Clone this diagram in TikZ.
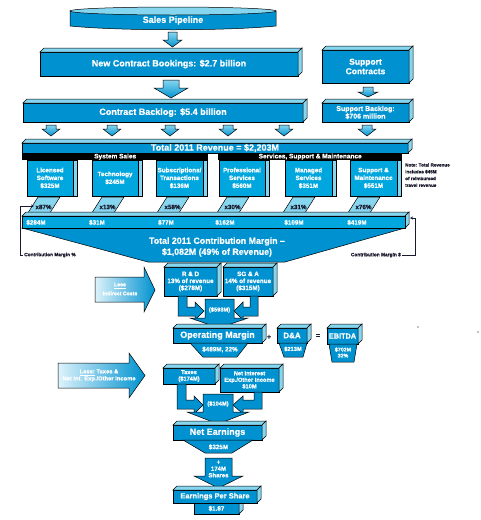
\documentclass[tikz,border=0pt]{standalone}
\usepackage{fontspec}
\setmainfont[BoldFeatures={FakeBold=0.6}]{Liberation Sans}
\usetikzlibrary{calc,arrows.meta}
\definecolor{cblue}{HTML}{0092D0}
\definecolor{cbright}{HTML}{00A6DE}
\definecolor{clight}{HTML}{86D6F0}
\definecolor{cpale}{HTML}{DDF3FB}
\definecolor{cnavy}{HTML}{1A1A2E}
\tikzset{
 base/.style={line width=0.5pt, draw=black},
 front/.style={base, fill=cblue},
 side/.style={base, fill=clight},
 fnine/.style={font=\bfseries\fontsize{9}{10}\selectfont},
 fcm/.style={font=\bfseries\fontsize{8.8}{11}\selectfont},
 fsc/.style={font=\bfseries\fontsize{8.5}{9.5}\selectfont},
 feight/.style={font=\bfseries\fontsize{8}{8.5}\selectfont},
 feps/.style={font=\bfseries\fontsize{7.5}{8}\selectfont},
 fsb/.style={font=\bfseries\fontsize{7}{7.6}\selectfont},
 fbox/.style={font=\bfseries\fontsize{6.3}{7.8}\selectfont},
 fsix/.style={font=\bfseries\fontsize{6.3}{7}\selectfont},
 fhdr/.style={font=\bfseries\fontsize{6.5}{6.5}\selectfont},
 ffive/.style={font=\bfseries\fontsize{5.7}{6.5}\selectfont},
 fsmall/.style={font=\bfseries\fontsize{4.8}{5.8}\selectfont},
 wtxt/.style={text=white, ffive, align=center, inner sep=0pt},
 btxt/.style={text=cnavy, fsmall, inner sep=0pt},
 boxnode/.style={front, inner sep=0pt, outer sep=0pt, anchor=north west, wtxt},
 revbox/.style={base, line width=0.8pt, fill=cbright, inner sep=0pt, outer sep=0pt, anchor=north west,
   minimum height=36, wtxt, fbox},
 arrowshade/.style={base, top color=clight, bottom color=cblue},
 conn/.style={draw=cnavy, line width=0.6pt},
}
\newcommand\faces[2][4]{%
 \path[side] (#2.north west) -- ++(#1,-#1) -- ([shift={(#1,-#1)}]#2.north east) -- (#2.north east) -- cycle;
 \path[side] (#2.north east) -- ++(#1,-#1) -- ([shift={(#1,-#1)}]#2.south east) -- (#2.south east) -- cycle;}
\newcommand\cube[7][]{%
 \node[boxnode, minimum width={#5-#3}, minimum height={#6-#4}, #1] (#2) at (#3,#4) {#7};
 \faces{#2}}
\newcommand\dnarrow[6]{%
 \path[arrowshade] ({#1-#5},#2) -- ({#1+#5},#2) -- ({#1+#5},#3) -- ({#1+#6},#3) -- (#1,#4) -- ({#1-#6},#3) -- ({#1-#5},#3) -- cycle;}
\newcommand\para[3]{%
 \path[side] (#2,216) -- ({#2+22},216) -- ({#2+34},197) -- ({#2+12},197) -- cycle;
 \node[btxt, fsix] (#1) at ({#2+17.5},207) {#3};}
\begin{document}
\begin{tikzpicture}[x=1pt,y=-1pt]
\fill[white] (0,0) rectangle (480,520);
\useasboundingbox (0,0) rectangle (480,520);
% Sales pipeline
\path[front] (70,11) -- (70,26) .. controls (120,31) and (226,31) .. (276,26) -- (276,11) -- cycle;
\path[side] (173,11) ellipse [x radius=103, y radius=4];
\node[wtxt, fnine] (pipe) at (173,20.5) {Sales Pipeline};
\dnarrow{172.5}{32}{40}{47}{4.5}{9.5}
% bookings
\cube[fnine]{book}{40}{52}{298}{76}{New Contract Bookings: \$2.7 billion}
\cube[fsc]{supp}{322}{50}{409}{83}{Support\\Contracts}
\dnarrow{171}{80}{88}{98}{8}{17}
\dnarrow{368}{87}{92}{97}{5}{10}
% backlog
\cube[fnine]{back}{23}{103}{303}{122}{Contract Backlog: \$5.4 billion}
\cube[fsb]{sback}{322}{103}{409}{122}{Support Backlog:\\\$706 million}
\foreach \cx in {51,112,170,228,284,367} {\dnarrow{\cx}{125}{129}{136}{5}{9}}
% revenue
\cube[fnine]{rev}{22}{143}{408}{153}{Total 2011 Revenue = \$2,203M}
\node[fill=black, inner sep=0pt, minimum width=186, minimum height=7, anchor=north west, text=white, fhdr] (hdrA) at (22,153) {System Sales};
\node[fill=black, inner sep=0pt, minimum width=184, minimum height=7, anchor=north west, text=white, fhdr] (hdrB) at (218,153) {Services, Support \& Maintenance};
\foreach \nm/\xx/\ww/\tt in {ls/27/46/{Licensed\\Software\\\$325M}, tech/92/46/{Technology\\\$245M}, subs/156/47/{Subscriptions/\\Transactions\\\$136M}, prof/219/46/{Professional\\Services\\\$560M}, man/285/47/{Managed\\Services\\\$351M}, sm/350/47/{Support \&\\Maintenance\\\$551M}} {
  \node[revbox, minimum width=\ww] (\nm) at (\xx,160) {\tt};
  \path[side] (\nm.north east) rectangle ([xshift=4]\nm.south east);
}
\node[btxt, anchor=north west, align=left, font=\bfseries\fontsize{4.6}{6.8}\selectfont] (note) at (405,163) {Note: Total Revenue\\includes \$45M\\of reimbursed\\travel revenue};
% multipliers
\para{p1}{26}{x87\%}
\para{p2}{90}{x13\%}
\para{p3}{155}{x58\%}
\para{p4}{215}{x30\%}
\para{p5}{281}{x31\%}
\para{p6}{346}{x76\%}
% contribution
\path[side] (22,216) -- (26,212) -- (409,212) -- (405,216) -- cycle;
\path[side] (405,216) -- (409,212) -- (409,224) -- (405,228) -- cycle;
\path[front] (22,228) -- (405,228) -- (285,262) -- (148,262) -- cycle;
\path[base, fill=cbright] (22,216) rectangle (405,228);
\foreach \nm/\xx/\tt in {v1/36/{\$284M}, v2/97/{\$31M}, v3/166/{\$77M}, v4/225/{\$162M}, v5/294/{\$109M}, v6/357/{\$419M}} {
  \node[wtxt, fsix] (\nm) at (\xx,222.5) {\tt};
}
\node[wtxt, fcm] (cm) at (217,247) {Total 2011 Contribution Margin –\\\$1,082M (49\% of Revenue)};
\node[btxt, anchor=west, inner sep=1pt] (cmp) at (23,255) {Contribution Margin \%};
\coordinate (cmpA) at (20,255);
\coordinate (cmpB) at (20,206);
\coordinate (cmpTop) at (34,206);
\draw[conn, -{Stealth[length=3pt,width=3pt]}] (cmp.west) -- (cmpA) -- (cmpB) -- (cmpTop);
\node[btxt, anchor=east, inner sep=1pt] (cmd) at (402,255) {Contribution Margin \$};
\coordinate (cmdA) at (415,255);
\coordinate (cmdB) at (415,218);
\coordinate (cmdTop) at (410,218);
\draw[conn, -{Stealth[length=3pt,width=3pt]}] (cmd.east) -- (cmdA) -- (cmdB) -- (cmdTop);
% less indirect costs
\path[base, left color=cpale, right color=cblue] (95,277) -- (144,277) -- (144,267) -- (155,290) -- (144,312) -- (144,302) -- (95,302) -- cycle;
\node[wtxt, font=\bfseries\fontsize{5.2}{6}\selectfont] (lic) at (120,289) {\underline{Less}\\[3pt]Indirect Costs};
\cube[fsix]{rd}{164}{267}{217}{296}{R \& D\\13\% of revenue\\(\$278M)}
\cube[fsix]{sga}{223}{267}{273}{296}{SG \& A\\14\% of revenue\\(\$315M)}
\path[front] (178,296) -- (187,296) -- (187,307) -- (195,307) -- (195,302) -- (204,311) -- (195,320) -- (195,316) -- (178,316) -- cycle;
\path[front] (258,296) -- (250,296) -- (250,307) -- (243,307) -- (243,302) -- (234,311) -- (243,320) -- (243,316) -- (258,316) -- cycle;
\path[front] (205,299) -- (234,299) -- (234,318) -- (248,318) -- (219,328) -- (190,318) -- (205,318) -- cycle;
\node[wtxt] (ic) at (219.5,310) {(\$593M)};
% operating margin
\cube[fnine]{om}{173}{328}{262}{343}{Operating Margin}
\path[front] (190,343) -- (248,343) -- (237,357) -- (203,357) -- cycle;
\node[wtxt, fsix] (omv) at (220,349.5) {\$489M, 22\%};
\node[btxt, font=\bfseries\fontsize{7}{7}\selectfont] (plus) at (269,337) {+};
\cube[feight]{da}{277}{328}{307}{343}{D\&A}
\path[front] (279,343) -- (307,343) -- (303,357) -- (284,357) -- cycle;
\node[wtxt, ffive] (dav) at (293,349) {\$213M};
\node[btxt, font=\bfseries\fontsize{7}{7}\selectfont] (eq) at (318,336) {=};
\cube[font=\bfseries\fontsize{7.3}{8}\selectfont]{eb}{327}{328}{358}{344}{EBITDA}
\path[front] (329,344) -- (357,344) -- (354,362) -- (332,362) -- cycle;
\node[wtxt, font=\bfseries\fontsize{5.3}{6}\selectfont] (ebv) at (343,352.5) {\$702M\\32\%};
\fill[black] (418,327) circle (0.6);
\fill[black] (478,332) circle (0.6);
% less taxes
\path[base, left color=cpale, right color=cblue] (58,363) -- (129,363) -- (129,353) -- (145,375.5) -- (129,398) -- (129,388) -- (58,388) -- cycle;
\node[wtxt, font=\bfseries\fontsize{5.8}{7}\selectfont] (lt) at (99,375.5) {\underline{Less:} Taxes \&\\Net Int. Exp./Other Income};
\cube[ffive]{tax}{163}{368}{215}{384}{Taxes\\(\$174M)}
\cube[ffive]{ni}{220}{368}{279}{392}{Net Interest\\Exp./Other Income\\\$10M}
\path[front] (177,384) -- (186,384) -- (186,400) -- (194,400) -- (194,396) -- (203,405) -- (194,414) -- (194,409) -- (177,409) -- cycle;
\path[front] (262,392) -- (254,392) -- (254,400) -- (243,400) -- (243,396) -- (233,405) -- (243,414) -- (243,409) -- (262,409) -- cycle;
\path[front] (203,394) -- (233,394) -- (233,412) -- (249,412) -- (218,424) -- (187,412) -- (203,412) -- cycle;
\node[wtxt] (tc) at (218,404) {(\$104M)};
% net earnings
\cube[fnine]{ne}{173}{425}{262}{440}{Net Earnings}
\path[front] (183,440) -- (253,440) -- (232,453) -- (205,453) -- cycle;
\node[wtxt, fsix] (nev) at (218.5,447) {\$325M};
\path[front] (205,458) -- (232,458) -- (232,476) -- (243,476) -- (218.5,488) -- (194,476) -- (205,476) -- cycle;
\node[wtxt, font=\bfseries\fontsize{6}{6.6}\selectfont] (sh) at (218.5,469) {+\\174M\\Shares};
% EPS
\cube[fsix]{eps2}{194}{503}{239}{514}{\$1.87}
\cube[feps]{eps}{173}{490}{257}{503}{Earnings Per Share}
\end{tikzpicture}
\end{document}
